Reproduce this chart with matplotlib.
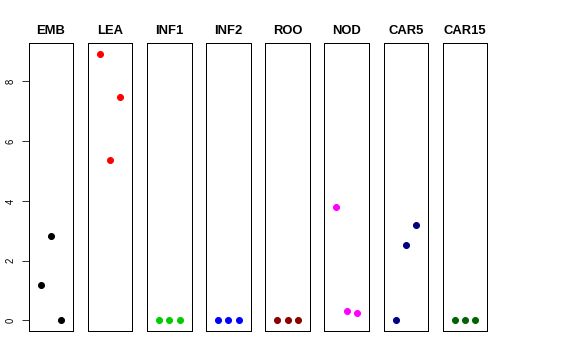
import matplotlib
matplotlib.use("Agg")
import matplotlib.pyplot as plt

# tissue panels and their three values each
tissues = ["EMB", "LEA", "INF1", "INF2", "ROO", "NOD", "CAR5", "CAR15"]
values = [
    [1.17, 2.84, 0.0],
    [8.92, 5.36, 7.49],
    [0.0, 0.0, 0.0],
    [0.0, 0.0, 0.0],
    [0.0, 0.0, 0.0],
    [3.81, 0.32, 0.23],
    [0.0, 2.51, 3.19],
    [0.0, 0.0, 0.0],
]
colors = ["black", "red", "#00CD00", "blue", "#8B0000", "magenta", "#000080", "#006400"]
yticks = [0, 2, 4, 6, 8]

W, H = 576, 360
fig = plt.figure(figsize=(W / 72, H / 72), dpi=72)
plt.rcParams['font.family'] = ['Liberation Sans', 'DejaVu Sans']

ymax = max(max(v) for v in values)
pad = 0.04 * ymax
top, bottom = 43.3, 331.0
panel_w = 44.6
step = 59.15

for i, (name, vals, col) in enumerate(zip(tissues, values, colors)):
    left = 28.7 + i * step
    ax = fig.add_axes([left / W, 1 - bottom / H, panel_w / W, (bottom - top) / H])
    ax.plot([1, 2, 3], vals, "o", color=col, markersize=6)
    ax.set_xlim(-0.16, 4.16)
    ax.set_ylim(-pad, ymax + pad)
    ax.set_xticks([])
    ax.set_title(name, fontsize=13, fontweight="bold", pad=9)
    for s in ax.spines.values():
        s.set_linewidth(1)
    if i == 0:
        ax.set_yticks(yticks)
        ax.set_yticklabels([str(t) for t in yticks], rotation=90, va="center", fontsize=9.5)
        ax.tick_params(axis="y", length=7, pad=6)
    else:
        ax.set_yticks([])

fig.savefig("out.png", dpi=72)
